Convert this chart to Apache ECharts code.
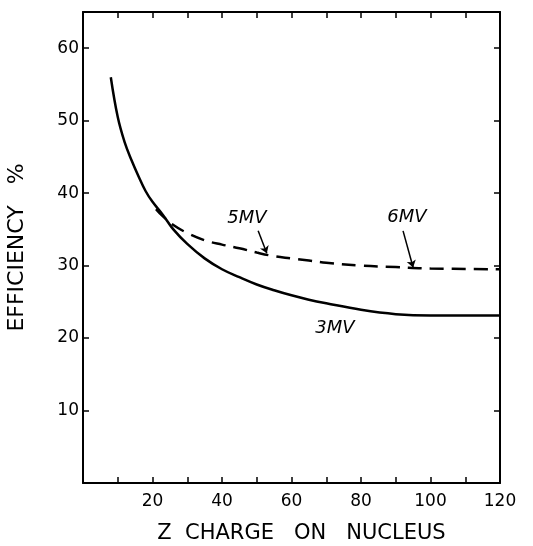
<!DOCTYPE html>
<html>
<head>
<meta charset="utf-8">
<script src="https://cdn.jsdelivr.net/npm/echarts@6/dist/echarts.min.js"></script>
<style>
  html, body { margin: 0; padding: 0; background: #fff; }
  #chart { width: 533px; height: 546px; }
</style>
</head>
<body>
<div id="chart"></div>
<script>
/** efficiency vs Z */
var zSolid = [8, 10, 12, 14, 16, 18, 20, 23, 26, 30, 35, 40, 45, 50, 55, 60, 65, 70, 80, 90, 100, 120];
var eff3MV = [56, 50.5, 47, 44.5, 42.3, 40.3, 38.8, 37, 35, 33, 31, 29.5, 28.4, 27.4, 26.6, 25.9, 25.3, 24.8, 23.9, 23.3, 23.1, 23.1];
var zDash = [21, 23, 26, 30, 35, 40, 45, 50, 55, 60, 65, 70, 80, 90, 100, 120];
var eff56MV = [37.8, 36.8, 35.6, 34.5, 33.5, 32.9, 32.4, 31.8, 31.3, 31, 30.7, 30.4, 30, 29.8, 29.6, 29.5];
var noteText = ['5MV', '6MV', '3MV'];
var notePos = [[47.2, 36.5], [93.2, 36.6], [72.5, 21.3]];
var arrowFrom = [[50.4, 34.8], [92.1, 34.8]];
var arrowTo = [[52.9, 31.7], [95, 29.75]];

function pairs(xs, ys) {
  return xs.map(function (x, i) { return [x, ys[i]]; });
}

var font = 'DejaVu Sans';
var chart = echarts.init(document.getElementById('chart'));

var axisBase = {
  type: 'value',
  interval: 10,
  splitLine: { show: false },
  axisLine: { show: true, onZero: false, lineStyle: { color: '#000', width: 2 } },
  axisTick: { show: true, inside: true, length: 6, lineStyle: { color: '#000', width: 1.5 } }
};

var option = {
  backgroundColor: '#fff',
  animation: false,
  grid: { left: 83, right: 33, top: 12, bottom: 63, outerBoundsMode: 'none' },
  xAxis: [
    Object.assign({}, axisBase, {
      min: 0, max: 120, position: 'bottom',
      name: 'Z  CHARGE   ON   NUCLEUS',
      nameLocation: 'middle', nameGap: 40,
      nameTextStyle: { fontFamily: font, fontSize: 21, color: '#000', padding: [0, 0, 0, 20] },
      axisLabel: {
        fontFamily: font, fontSize: 17, color: '#000', margin: 10,
        formatter: function (v) { return (v === 0 || v % 20 !== 0) ? '' : v; }
      }
    }),
    Object.assign({}, axisBase, {
      min: 0, max: 120, position: 'top', axisLabel: { show: false }
    })
  ],
  yAxis: [
    Object.assign({}, axisBase, {
      min: 0, max: 65, position: 'left',
      name: 'EFFICIENCY   %',
      nameLocation: 'middle', nameGap: 55, nameRotate: 90,
      nameTextStyle: { fontFamily: font, fontSize: 22, color: '#000' },
      axisLabel: {
        fontFamily: font, fontSize: 17, color: '#000', margin: 4,
        formatter: function (v) { return (v === 0 || v % 10 !== 0) ? '' : v; }
      }
    }),
    Object.assign({}, axisBase, {
      min: 0, max: 65, position: 'right', axisLabel: { show: false }
    })
  ],
  series: [{
    name: '3MV',
    type: 'line',
    smooth: 0.4,
    symbol: 'none',
    data: pairs(zSolid, eff3MV),
    lineStyle: { color: '#000', width: 2.5 },
    markPoint: {
      symbol: 'circle',
      symbolSize: 0,
      label: {
        show: true, position: 'inside', formatter: '{b}',
        fontFamily: font, fontStyle: 'italic', fontSize: 18, color: '#000'
      },
      data: noteText.map(function (t, i) { return { name: t, coord: notePos[i] }; })
    }
  }, {
    name: '5MV / 6MV',
    type: 'line',
    smooth: 0.4,
    symbol: 'none',
    data: pairs(zDash, eff56MV),
    lineStyle: { color: '#000', width: 2.5, type: [14, 8] },
    markLine: {
      silent: true,
      symbol: ['none', 'arrow'],
      symbolSize: 7,
      label: { show: false },
      lineStyle: { color: '#000', width: 1.5, type: 'solid' },
      data: arrowFrom.map(function (p, i) { return [{ coord: p }, { coord: arrowTo[i] }]; })
    }
  }]
};

chart.setOption(option);
</script>
</body>
</html>
